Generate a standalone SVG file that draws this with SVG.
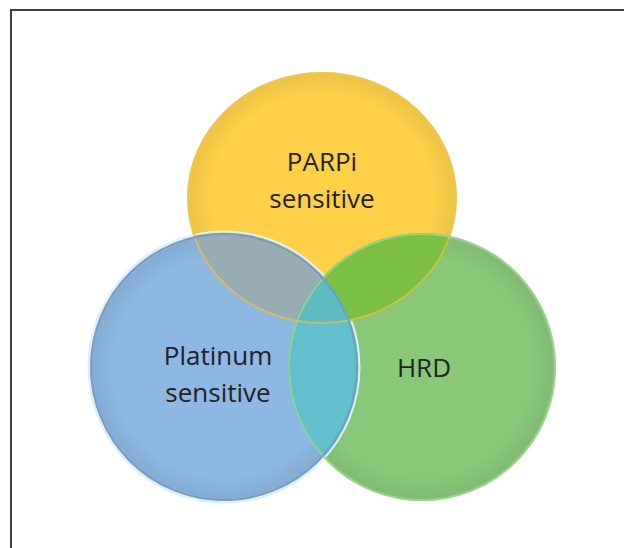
<svg xmlns="http://www.w3.org/2000/svg" width="624" height="548" viewBox="0 0 624 548">
  <style>
    .lbl { font-family: "Open Sans", "Noto Sans", "Liberation Sans", sans-serif; font-size: 26px; fill: #222222; text-anchor: middle; }
    .frame { fill: none; stroke: #404040; stroke-width: 2; }
  </style>
  <defs>
    <clipPath id="clipY"><ellipse cx="322" cy="198" rx="135" ry="126"/></clipPath>
    <clipPath id="clipB"><circle cx="224" cy="367" r="134"/></clipPath>
    <clipPath id="clipG"><circle cx="422" cy="367" r="134"/></clipPath>
    <radialGradient id="shade" cx="0.5" cy="0.5" r="0.5">
      <stop offset="0.82" stop-color="#000000" stop-opacity="0"/>
      <stop offset="0.97" stop-color="#000000" stop-opacity="0.06"/>
      <stop offset="1" stop-color="#ffffff" stop-opacity="0.15"/>
    </radialGradient>
  </defs>
  <rect width="624" height="548" fill="#ffffff"/>
  <path class="frame" d="M11,548 V10 H624"/>

  <g id="parpi">
    <ellipse cx="322" cy="198" rx="135" ry="126" fill="#FDD048"/>
    <ellipse cx="322" cy="198" rx="135" ry="126" fill="url(#shade)"/>
  </g>
  <g id="hrd">
    <circle cx="422" cy="367" r="134" fill="#88C878"/>
    <circle cx="422" cy="367" r="134" fill="url(#shade)"/>
  </g>
  <g id="platinum">
    <circle cx="224" cy="367" r="135.5" fill="none" stroke="#DDEFFA" stroke-width="2"/>
    <circle cx="224" cy="367" r="134" fill="#8DB8E2"/>
    <circle cx="224" cy="367" r="134" fill="url(#shade)"/>
  </g>

  <g id="overlaps">
    <circle cx="224" cy="367" r="134" fill="#98ADB3" clip-path="url(#clipY)"/>
    <circle cx="422" cy="367" r="134" fill="#7CC043" clip-path="url(#clipY)"/>
    <circle cx="224" cy="367" r="134" fill="#62BFCB" clip-path="url(#clipG)"/>
    <g clip-path="url(#clipY)">
      <circle cx="224" cy="367" r="134" fill="#5DBAC2" clip-path="url(#clipG)"/>
    </g>
  </g>

  <g id="rims" fill="none">
    <ellipse cx="322" cy="198" rx="134" ry="125" stroke="#E9C24A" stroke-width="2" opacity="0.7"/>
    <circle cx="422" cy="367" r="133" stroke="#9ED68C" stroke-width="2" opacity="0.8"/>
    <circle cx="224" cy="367" r="133" stroke="#6E97C4" stroke-width="2" opacity="0.8"/>
  </g>

  <g id="labels">
    <text class="lbl" x="322" y="171">PARPi</text>
    <text class="lbl" x="322" y="208">sensitive</text>
    <text class="lbl" x="218" y="365">Platinum</text>
    <text class="lbl" x="218" y="402">sensitive</text>
    <text class="lbl" x="424" y="377">HRD</text>
  </g>
</svg>
